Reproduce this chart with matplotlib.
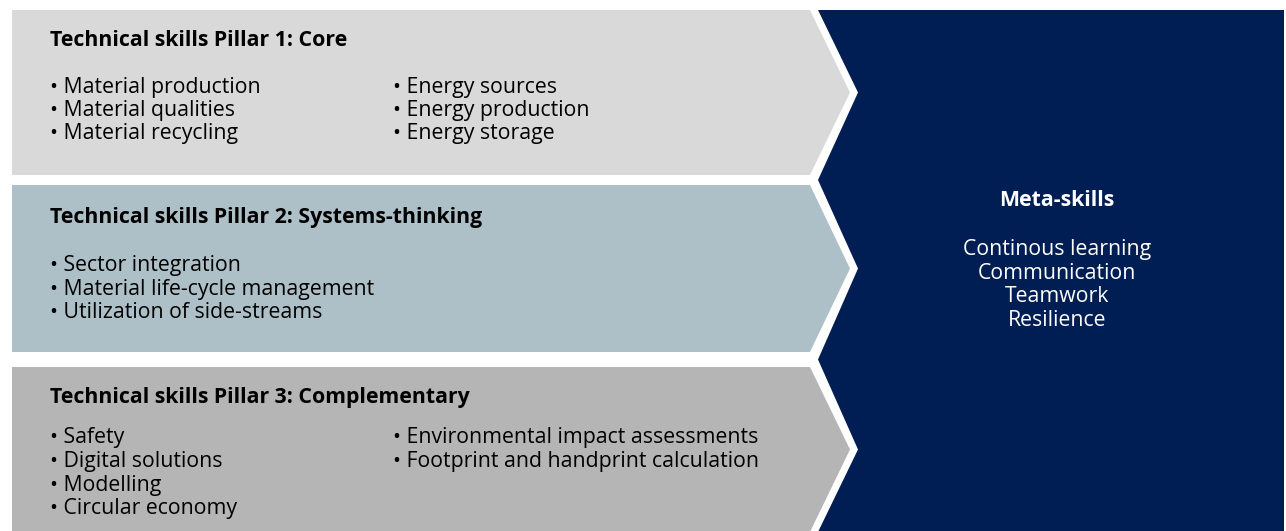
import matplotlib
matplotlib.use("Agg")
import matplotlib.pyplot as plt
from matplotlib.patches import Polygon

# ---- data ----
pillar_titles = [
    "Technical skills Pillar 1: Core",
    "Technical skills Pillar 2: Systems-thinking",
    "Technical skills Pillar 3: Complementary",
]
pillar_col1 = [
    ["Material production", "Material qualities", "Material recycling"],
    ["Sector integration", "Material life-cycle management", "Utilization of side-streams"],
    ["Safety", "Digital solutions", "Modelling", "Circular economy"],
]
pillar_col2 = [
    ["Energy sources", "Energy production", "Energy storage"],
    [],
    ["Environmental impact assessments", "Footprint and handprint calculation"],
]
meta_title = "Meta-skills"
meta_items = ["Continous learning", "Communication", "Teamwork", "Resilience"]

# ---- styles / layout ----
band_colors = ["#d9d9d9", "#adc0c8", "#b5b5b5"]
navy = "#001e54"
bands = [(10, 175), (185, 352), (367, 532)]
x_left, x_rect, x_tip = 12, 810, 850
gap = 8
W, H = 1286, 531
FONT = "Open Sans"
FS = 15.3
LINE = 23.5

fig = plt.figure(figsize=(W / 100, H / 100), dpi=100)
ax = fig.add_axes([0, 0, 1, 1])
ax.set_xlim(0, W)
ax.set_ylim(H, 0)
ax.axis("off")

# navy meta-skills panel
pts = [(x_rect + gap, bands[0][0])]
for i, (t, b) in enumerate(bands):
    pts.append((x_tip + gap, (t + b) / 2))
    if i < len(bands) - 1:
        pts.append((x_rect + gap, (b + bands[i + 1][0]) / 2))
pts.append((x_rect + gap, bands[-1][1]))
pts += [(1284, bands[-1][1]), (1284, bands[0][0])]
ax.add_patch(Polygon(pts, closed=True, facecolor=navy, edgecolor="none"))

# pillar arrows
for (t, b), c in zip(bands, band_colors):
    poly = [(x_left, t), (x_rect, t), (x_tip, (t + b) / 2), (x_rect, b), (x_left, b)]
    ax.add_patch(Polygon(poly, closed=True, facecolor=c, edgecolor="none"))

title_y = [40, 218, 398]
bullet_y0 = [87, 266, 438]
for i, (t, b) in enumerate(bands):
    ax.text(50, title_y[i], pillar_titles[i], fontsize=FS, fontweight="bold",
            family=FONT, color="black", va="center", ha="left")
    for j, s in enumerate(pillar_col1[i]):
        ax.text(50, bullet_y0[i] + j * LINE, "\u2022 " + s, fontsize=FS,
                family=FONT, color="black", va="center", ha="left")
    for j, s in enumerate(pillar_col2[i]):
        ax.text(393, bullet_y0[i] + j * LINE, "\u2022 " + s, fontsize=FS,
                family=FONT, color="black", va="center", ha="left")

cx = 1057
ax.text(cx, 201, meta_title, fontsize=FS, fontweight="bold", family=FONT,
        color="white", va="center", ha="center")
for j, s in enumerate(meta_items):
    ax.text(cx, 250 + j * LINE, s, fontsize=FS, family=FONT, color="white",
            va="center", ha="center")

fig.savefig("out.png", dpi=100, facecolor="white")
